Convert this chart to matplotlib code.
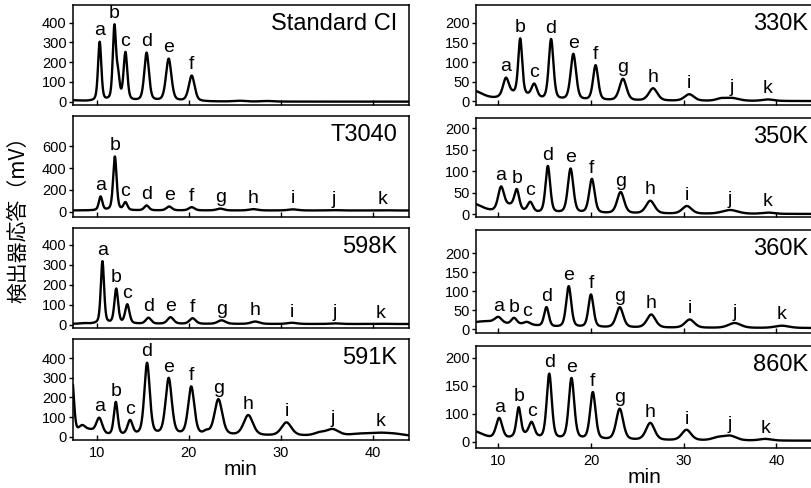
import numpy as np
import matplotlib
matplotlib.use("Agg")
import matplotlib.pyplot as plt

plt.rcParams['font.family'] = ['Liberation Sans', 'DejaVu Sans']

letters6 = list("abcdef")
letters11 = list("abcdefghijk")

# peak retention time (min), peak top (mV), width (min)
std_rt = [10.3, 11.9, 13.1, 15.4, 17.8, 20.3]
std_ht = [300, 385, 245, 245, 215, 130]
std_fw = [0.42, 0.42, 0.48, 0.6, 0.7, 0.75]
std_base = 0
std_bg = [(7.2, 6, 2.5), (12.3, 110, 0.4), (25.5, 4, 1.5), (28.5, 3, 1.5)]

t3040_rt = [10.4, 11.95, 13.1, 15.4, 17.85, 20.3, 23.4, 27.0, 31.3, 35.7, 41.1]
t3040_ht = [135, 505, 80, 55, 46, 40, 27, 22, 20, 13, 12]
t3040_fw = [0.45, 0.45, 0.5, 0.6, 0.7, 0.75, 0.9, 1.1, 1.2, 1.4, 1.6]
t3040_base = 10
t3040_bg = []

k598_rt = [10.6, 12.1, 13.3, 15.6, 18.0, 20.4, 23.55, 27.2, 31.2, 35.9, 40.8]
k598_ht = [317, 178, 100, 35, 38, 33, 23, 17, 11, 8, 6]
k598_fw = [0.42, 0.48, 0.55, 0.7, 0.8, 0.8, 1.0, 1.1, 1.2, 1.3, 1.5]
k598_base = 5
k598_bg = [(8.5, 3, 1.0)]

k591_rt = [10.25, 12.05, 13.6, 15.45, 17.8, 20.25, 23.2, 26.45, 30.6, 35.6, 40.8]
k591_ht = [94, 172, 77, 371, 293, 250, 187, 107, 71, 38, 20]
k591_fw = [0.8, 0.5, 0.65, 0.7, 0.8, 0.8, 1.0, 1.2, 1.3, 1.6, 3.0]
k591_base = 3
k591_bg = [(7.3, 285, 0.5), (8.4, 45, 1.0), (9.3, 20, 1.0), (21.9, 15, 0.7),
           (34.2, 14, 1.4), (38.5, 8, 2.5), (42.5, 6, 2.0)]

k330_rt = [10.83, 12.37, 13.88, 15.7, 18.1, 20.5, 23.45, 26.7, 30.6, 35.2, 39.1]
k330_ht = [58, 158, 41, 157, 119, 90, 56, 32, 17, 8, 4]
k330_fw = [0.75, 0.5, 0.7, 0.6, 0.7, 0.65, 0.9, 1.1, 1.2, 1.8, 1.5]
k330_base = 0
k330_bg = [(7.0, 28, 3.0), (12.0, 16, 3.0), (34.0, 5, 1.2)]

k350_rt = [10.3, 12.0, 13.45, 15.35, 17.8, 20.1, 23.2, 26.4, 30.35, 35.0, 39.1]
k350_ht = [64, 57, 27, 111, 105, 81, 51, 31, 19, 10, 4]
k350_fw = [0.75, 0.6, 0.7, 0.6, 0.7, 0.7, 0.9, 1.1, 1.2, 2.0, 1.5]
k350_base = 1
k350_bg = [(7.0, 25, 3.0), (11.3, 17, 2.0)]

k360_rt = [10.0, 11.7, 13.1, 15.2, 17.6, 20.0, 23.1, 26.5, 30.65, 35.5, 40.6]
k360_ht = [32, 29, 18, 57, 112, 90, 57, 38, 25, 16, 9]
k360_fw = [0.9, 0.7, 0.8, 0.6, 0.65, 0.65, 0.9, 1.1, 1.2, 1.6, 1.8]
k360_base = 3
k360_bg = [(8.5, 17, 5.0), (13.0, 6, 3.0)]

k860_rt = [10.1, 12.2, 13.6, 15.5, 17.9, 20.2, 23.1, 26.4, 30.3, 35.0, 38.8]
k860_ht = [42, 60, 33, 120, 112, 87, 58, 33, 21, 11, 5]
k860_fw = [0.8, 0.55, 0.7, 0.65, 0.7, 0.7, 0.9, 1.1, 1.2, 1.6, 1.5]
k860_base = 2
k860_bg = [(7.0, 18, 3.0), (12.8, 8, 2.5), (33.7, 5, 1.5)]

W, H = 812, 488


def box(x0, top, x1, bot):
    return [x0 / W, 1 - bot / H, (x1 - x0) / W, (bot - top) / H]


def shape(t, t0, fw):
    g = np.exp(-4 * np.log(2) * ((t - t0) / fw) ** 2)
    l = 1 / (1 + (2 * (t - t0) / fw) ** 2)
    return 0.6 * g + 0.4 * l


def chromatogram(t, rt, ht, fw, base, bg):
    def background(x):
        y = np.full_like(x, base, dtype=float)
        for c, h, w in bg:
            y += h * shape(x, c, w)
        return y
    y = background(t)
    for r, h, w in zip(rt, ht, fw):
        amp = h - background(np.array([r]))[0]
        y += amp * shape(t, r, w)
    return y


def panel(rect, name, rt, ht, fw, base, bg, letters, xlim, ylim, yticks,
          yticklabels=None, bottom=False, name_x=0.964):
    ax = fig.add_axes(box(*rect))
    t = np.linspace(xlim[0], xlim[1], 3000)
    y = chromatogram(t, rt, ht, fw, base, bg)
    ax.plot(t, y, color='black', lw=1.7)
    tops = chromatogram(np.array(rt, dtype=float), rt, ht, fw, base, bg)
    for r, top, s in zip(rt, tops, letters):
        ax.annotate(s, (r, top), xytext=(0, 4.5), textcoords='offset points',
                    ha='center', va='baseline', fontsize=14)
    ax.set_xlim(*xlim)
    ax.set_ylim(*ylim)
    ax.set_xticks([10, 20, 30, 40])
    ax.set_yticks(yticks)
    if yticklabels is not None:
        ax.set_yticklabels(yticklabels)
    ax.tick_params(axis='x', direction='in', length=3.5, width=1, labelsize=10.5,
                   labelbottom=bottom, pad=4)
    ax.tick_params(axis='y', direction='out', length=3, width=1, labelsize=10.5, pad=1.5)
    for sp in ax.spines.values():
        sp.set_linewidth(1.1)
    hpx = rect[3] - rect[1]
    ax.text(name_x, 1 - 25 / hpx, name, transform=ax.transAxes,
            ha='right', va='baseline', fontsize=17)
    if bottom:
        ax.set_xlabel("min", fontsize=15, labelpad=0)
    return ax


fig = plt.figure(figsize=(8.12, 4.88), dpi=100)

lx = (7.4, 43.92)
rx = (7.6, 43.95)
r400 = [0, 100, 200, 300, 400]
r200 = [0, 50, 100, 150, 200]

panel((73, 5, 409, 105), "Standard CI", std_rt, std_ht, std_fw, std_base, std_bg,
      letters6, lx, (-17, 490), r400)
panel((73, 116, 409, 217), "T3040", t3040_rt, t3040_ht, t3040_fw, t3040_base, t3040_bg,
      letters11, lx, (-50, 880), [0, 200, 400, 600])
panel((73, 228, 409, 328), "598K", k598_rt, k598_ht, k598_fw, k598_base, k598_bg,
      letters11, lx, (-15, 485), r400)
panel((73, 339, 409, 440), "591K", k591_rt, k591_ht, k591_fw, k591_base, k591_bg,
      letters11, lx, (-17, 498), r400, bottom=True)

panel((476, 5, 813, 105), "330K", k330_rt, k330_ht, k330_fw, k330_base, k330_bg,
      letters11, rx, (-10, 246), r200, name_x=0.985)
panel((476, 118, 813, 217), "350K", k350_rt, k350_ht, k350_fw, k350_base, k350_bg,
      letters11, rx, (-6, 224), r200, name_x=0.985)
panel((476, 230, 813, 333), "360K", k360_rt, k360_ht, k360_fw, k360_base, k360_bg,
      letters11, rx, (-10, 261), r200, name_x=0.985)
panel((476, 346, 813, 448), "860K", k860_rt, k860_ht, k860_fw, k860_base, k860_bg,
      letters11, rx, (-11, 171), [0, 50, 100, 150], ['0', '100', '150', '200'],
      bottom=True, name_x=0.985)

fig.text(0.022, 0.56, "検出器応答（mV）", rotation=90, ha='center', va='center',
         fontsize=15, family=['Noto Sans CJK JP', 'DejaVu Sans'])

fig.savefig("out.png", dpi=100)
